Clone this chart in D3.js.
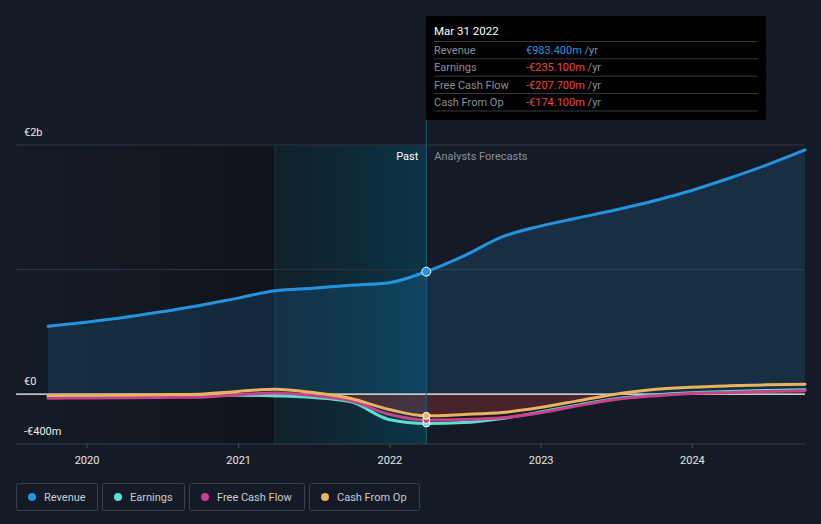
<!DOCTYPE html>
<html><head><meta charset="utf-8">
<script src="https://cdn.jsdelivr.net/npm/d3@7"></script>
<style>
html,body{margin:0;padding:0;background:#151b26;}
svg{display:block;font-family:Roboto,"Noto Sans",sans-serif;}
</style></head><body>
<svg id="c" width="821" height="524"></svg>
<script>
const dates = ["2019-09-30","2019-12-31","2020-03-31","2020-06-30","2020-09-30","2020-12-31","2021-03-31","2021-06-30","2021-09-30","2021-12-31","2022-03-31","2022-06-30","2022-09-30","2022-12-31","2023-03-31","2023-06-30","2023-09-30","2023-12-31","2024-03-31","2024-06-30","2024-09-30"];
const revenue = [546,578,615,661,711,771,830,851,875,895,983.4,1110,1262,1349,1414,1478,1550,1635,1733,1840,1960];
const earnings = [-20,-18,-16,-15,-14,-8,-14,-27,-62,-203,-235.1,-228,-195,-143,-88,-36,-6,12,22,30,36];
const freeCashFlow = [-32,-30,-28,-26,-24,-5,10,-10,-54,-161,-207.7,-203,-190,-150,-94,-43,-14,5,13,21,27];
const cashFromOp = [-10,-8,-6,-4,0,22,40,13,-35,-123,-174.1,-163,-147,-107,-54,0,38,56,67,75,80];
const yTicks = [2000,0,-400];
const yTickLabels = ["€2b","€0","-€400m"];
const seriesNames = ["Revenue","Earnings","Free Cash Flow","Cash From Op"];
const seriesColors = ["#2394df","#58e0d0","#c9418b","#e9b35f"];
const tooltipDate = "Mar 31 2022";
const tooltipValues = ["€983.400m","-€235.100m","-€207.700m","-€174.100m"];
const pastStart = "2021-03-31", nowDate = "2022-03-31";

const parse = d3.timeParse("%Y-%m-%d");
const D = dates.map(parse);
const svg = d3.select("#c");
const L = 16, R = 805;
const x = d3.scaleTime().domain([D[0], D[D.length-1]]).range([48, 805]);
const y = d3.scaleLinear().domain([-400, 2000]).range([444, 145]);
const xNow = x(parse(nowDate)), xPast = x(parse(pastStart));

const defs = svg.append("defs");
const g1 = defs.append("linearGradient").attr("id","gl");
g1.append("stop").attr("offset","0").attr("stop-color","#0e1117").attr("stop-opacity",0);
g1.append("stop").attr("offset","1").attr("stop-color","#0e1117").attr("stop-opacity",0.75);
const g2 = defs.append("linearGradient").attr("id","gp");
g2.append("stop").attr("offset","0").attr("stop-color","#0a2a36").attr("stop-opacity",0.35);
g2.append("stop").attr("offset","1").attr("stop-color","#08394b").attr("stop-opacity",0.9);

svg.append("rect").attr("x",L).attr("y",y(2000)).attr("width",xPast-L).attr("height",y(-400)-y(2000)).attr("fill","url(#gl)");
svg.append("rect").attr("x",xPast).attr("y",y(2000)).attr("width",xNow-xPast).attr("height",y(-400)-y(2000)).attr("fill","url(#gp)");

// grid
svg.append("g").selectAll("line").data([2000,1000]).join("line")
  .attr("x1",L).attr("x2",R).attr("y1",d=>y(d)).attr("y2",d=>y(d))
  .attr("stroke","#2f3540").attr("stroke-width",1);

svg.append("line").attr("x1",xPast).attr("x2",xPast).attr("y1",y(2000)).attr("y2",y(-400)).attr("stroke","#1c3945").attr("stroke-width",1);

const pts = k => D.map((d,i)=>({d, v:k[i]}));
const curve = d3.curveMonotoneX;

// revenue area
svg.append("path").datum(pts(revenue))
  .attr("d", d3.area().curve(curve).x(p=>x(p.d)).y0(y(0)).y1(p=>y(p.v)))
  .attr("fill","#2394df").attr("fill-opacity",0.16);

// negative fill (cash from op below zero)
svg.append("path").datum(pts(cashFromOp))
  .attr("d", d3.area().curve(curve).x(p=>x(p.d)).y0(y(0)).y1(p=>y(Math.min(0,p.v))))
  .attr("fill","#e63c3c").attr("fill-opacity",0.25);

// zero line
svg.append("line").attr("x1",L).attr("x2",R).attr("y1",y(0)).attr("y2",y(0)).attr("stroke","#ffffff").attr("stroke-width",1.2);

// now line
svg.append("line").attr("x1",xNow).attr("x2",xNow).attr("y1",120).attr("y2",y(-400)).attr("stroke","#1d5f73").attr("stroke-width",1);

// bottom axis
const ax = svg.append("g").attr("transform",`translate(0,${y(-400)})`)
  .call(d3.axisBottom(x).ticks(d3.timeYear.every(1)).tickFormat(d3.timeFormat("%Y")).tickSize(4).tickPadding(6));
ax.select(".domain").remove();
ax.selectAll(".tick line").attr("stroke","#4a505a");
ax.selectAll(".tick text").attr("fill","#e8e8e8").attr("font-size","11px").attr("font-family","Roboto, sans-serif").attr("dy","0.9em");
svg.append("line").attr("x1",L).attr("x2",R).attr("y1",y(-400)).attr("y2",y(-400)).attr("stroke","#3a404a").attr("stroke-width",1);

// lines
const line = d3.line().curve(curve).x(p=>x(p.d)).y(p=>y(p.v));
const series = [revenue, earnings, freeCashFlow, cashFromOp];
series.forEach((s,i)=>{
  svg.append("path").datum(pts(s)).attr("d",line).attr("fill","none")
    .attr("stroke",seriesColors[i]).attr("stroke-width",3).attr("stroke-linecap","round");
});
// dots at now
const ni = dates.indexOf(nowDate);
[1,2,3,0].forEach(i=>{
  svg.append("circle").attr("cx",xNow).attr("cy",y(series[i][ni])).attr("r",i===0?4.5:3.5)
    .attr("fill",seriesColors[i]).attr("stroke","#ffffff").attr("stroke-width",1);
});

// y labels
svg.append("g").selectAll("text").data(yTicks).join("text")
  .attr("x",24).attr("y",d=>y(d)-9).text((d,i)=>yTickLabels[i])
  .attr("fill","#e8e8e8").attr("font-size","11px");

// past / forecast labels
svg.append("text").attr("x",xNow-8).attr("y",160).attr("text-anchor","end").text("Past").attr("fill","#ffffff").attr("font-size","11px");
svg.append("text").attr("x",xNow+8).attr("y",160).text("Analysts Forecasts").attr("fill","#8b9099").attr("font-size","11px");

// tooltip
const tt = svg.append("g");
tt.append("rect").attr("x",426).attr("y",16).attr("width",340).attr("height",104).attr("fill","#000000");
tt.append("text").attr("x",434).attr("y",35).text(tooltipDate).attr("fill","#ffffff").attr("font-size","11.5px");
const rowY = [41.5,58.8,76.2,93.5,111];
rowY.forEach(ry=>tt.append("line").attr("x1",434).attr("x2",758).attr("y1",ry).attr("y2",ry).attr("stroke","#333840").attr("stroke-width",1));
seriesNames.forEach((n,i)=>{
  const by = rowY[i]+12.5;
  tt.append("text").attr("x",434).attr("y",by).text(n).attr("fill","#8a8f98").attr("font-size","11px");
  const t = tt.append("text").attr("x",526).attr("y",by).attr("font-size","11px");
  t.append("tspan").text(tooltipValues[i]).attr("fill", i===0?"#2394df":"#ef4444");
  t.append("tspan").text(" /yr").attr("fill","#8a8f98");
});

// legend
const lg = svg.append("g");
let lx = 16;
const widths = [81,82,115,110];
seriesNames.forEach((n,i)=>{
  const gx = lg.append("g").attr("transform",`translate(${lx},483)`);
  gx.append("rect").attr("x",0.5).attr("y",0.5).attr("width",widths[i]).attr("height",27).attr("rx",2)
    .attr("fill","none").attr("stroke","#3a3f49");
  gx.append("circle").attr("cx",16).attr("cy",14).attr("r",4).attr("fill",seriesColors[i]);
  gx.append("text").attr("x",28).attr("y",18).text(n).attr("fill","#c8ccd2").attr("font-size","11px");
  lx += widths[i] + 5;
});
</script>
</body></html>
